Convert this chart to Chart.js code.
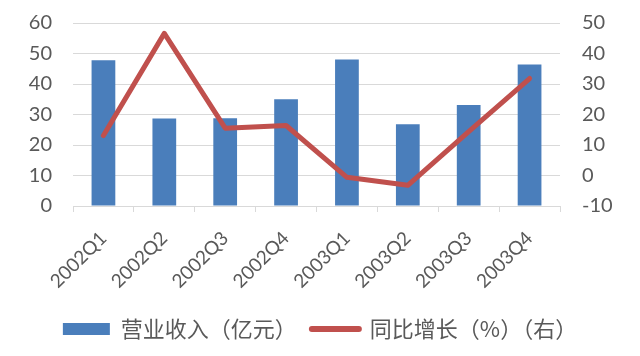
<!DOCTYPE html>
<html><head><meta charset="utf-8">
<script src="https://cdn.jsdelivr.net/npm/chart.js@4/dist/chart.umd.min.js"></script>
<style>html,body{margin:0;padding:0;background:#fff}#wrap{width:640px;height:356px}</style>
</head><body><div id="wrap"><canvas id="c" width="640" height="356"></canvas></div>
<script>
const categories = ['2002Q1','2002Q2','2002Q3','2002Q4','2003Q1','2003Q2','2003Q3','2003Q4'];
const revenue = [47.8, 28.7, 28.8, 35.0, 48.0, 26.8, 33.1, 46.4];
const growth = [13.1, 46.6, 15.5, 16.4, -0.6, -3.2, 14.4, 31.8];
const seriesNames = ['营业收入（亿元）', '同比增长（%）（右）'];
const leftTicks = [0, 10, 20, 30, 40, 50, 60];
const rightTicks = [-10, 0, 10, 20, 30, 40, 50];

const gray = '#595959';
const grid = '#D9D9D9';
new Chart(document.getElementById('c'), {
  data: {
    labels: categories,
    datasets: [
      { type: 'line', label: seriesNames[1], data: growth, yAxisID: 'y1',
        borderColor: '#C0504D', backgroundColor: '#C0504D', borderWidth: 5,
        pointRadius: 0, borderJoinStyle: 'round', borderCapStyle: 'round', tension: 0, order: 0 },
      { type: 'bar', label: seriesNames[0], data: revenue, yAxisID: 'y',
        backgroundColor: '#4A7EBB', borderWidth: 0, categoryPercentage: 1, barPercentage: 0.39, order: 1 }
    ]
  },
  options: {
    responsive: false, animation: false,
    layout: { padding: { top: 23, bottom: 6, left: 0, right: 0 } },
    plugins: {
      tooltip: { enabled: false },
      legend: {
        position: 'bottom', reverse: true,
        labels: {
          usePointStyle: true, boxHeight: 12, pointStyleWidth: 47, padding: 15,
          color: gray, font: { family: '"Noto Sans CJK SC", sans-serif', size: 22 },
          generateLabels(chart) {
            const items = Chart.defaults.plugins.legend.labels.generateLabels(chart);
            items.forEach(it => {
              if (it.datasetIndex === 0) { it.pointStyle = 'line'; it.lineWidth = 6; it.strokeStyle = '#C0504D'; it.lineCap = 'round'; }
              else { it.pointStyle = 'rect'; it.lineWidth = 0; it.strokeStyle = '#4A7EBB'; }
            });
            return items;
          }
        }
      }
    },
    scales: {
      x: {
        offset: true,
        grid: { display: true, drawOnChartArea: false, drawTicks: true, tickLength: 6, color: grid, offset: true },
        border: { display: true, color: grid, width: 1 },
        ticks: { color: gray, font: { family: 'Lato', size: 19 }, minRotation: 45, maxRotation: 45, autoSkip: false, padding: 15 },
        afterFit(s) { s.height = 97; }
      },
      y: {
        position: 'left', min: 0, max: 60,
        afterBuildTicks(s) { s.ticks = leftTicks.map(v => ({ value: v })); },
        grid: { color: grid, drawTicks: false, lineWidth: 1 },
        border: { display: false },
        ticks: { color: gray, font: { family: 'Lato', size: 20 }, padding: 21 },
        afterFit(s) { s.width = 73; s.paddingTop = 0; s.paddingBottom = 0; }
      },
      y1: {
        position: 'right', min: -10, max: 50,
        afterBuildTicks(s) { s.ticks = rightTicks.map(v => ({ value: v })); },
        grid: { drawOnChartArea: false, drawTicks: false },
        border: { display: false },
        ticks: { color: gray, font: { family: 'Lato', size: 20 }, padding: 22 },
        afterFit(s) { s.width = 80; s.paddingTop = 0; s.paddingBottom = 0; }
      }
    }
  }
});
</script></body></html>
